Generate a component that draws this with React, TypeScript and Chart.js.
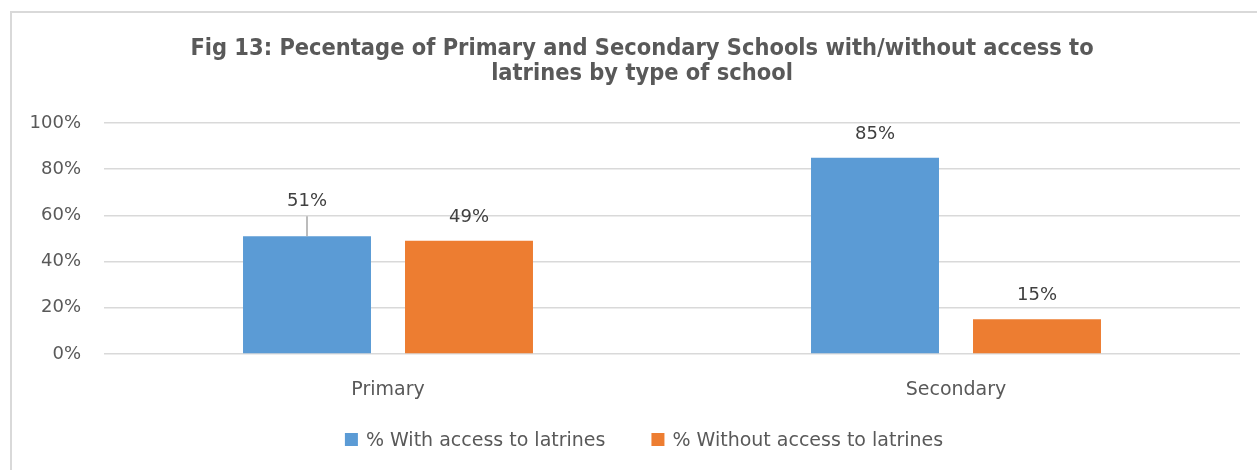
import React, { useEffect, useRef } from 'react';
import { Chart, registerables } from 'chart.js';

Chart.register(...registerables);

const categories = ['Primary', 'Secondary'];
const withAccess = [51, 85];
const withoutAccess = [49, 15];
const seriesLabels = ['% With access to latrines', '% Without access to latrines'];
const seriesColors = ['#5B9BD5', '#ED7D31'];
const yTicks = [0, 20, 40, 60, 80, 100];
const titleLines = [
  'Fig 13: Pecentage of Primary and Secondary Schools with/without access to',
  'latrines by type of school',
];
const leaderLabels = [{ dataset: 0, index: 0 }];

const TEXT = '#595959';
const FONT = '"DejaVu Sans", sans-serif';
const TITLE_FONT = 'bold 23.4px "DejaVu Sans Condensed", "DejaVu Sans", sans-serif';
const PAD_LEFT = 20;
const PAD_RIGHT = 17;

const titlePlugin = {
  id: 'customTitle',
  afterDraw(chart: any) {
    const ctx = chart.ctx;
    const area = chart.chartArea;
    ctx.save();
    ctx.font = TITLE_FONT;
    ctx.fillStyle = TEXT;
    ctx.textAlign = 'center';
    ctx.textBaseline = 'alphabetic';
    const cx = (area.left + area.right) / 2 - 30;
    titleLines.forEach((line, i) => {
      ctx.fillText(line, cx, 55 + i * 25);
    });
    ctx.restore();
  },
};

const dataLabelPlugin = {
  id: 'dataLabels',
  afterDatasetsDraw(chart: any) {
    const ctx = chart.ctx;
    ctx.save();
    ctx.font = `18px ${FONT}`;
    ctx.fillStyle = '#404040';
    ctx.textAlign = 'center';
    ctx.textBaseline = 'alphabetic';
    chart.data.datasets.forEach((ds: any, i: number) => {
      const meta = chart.getDatasetMeta(i);
      meta.data.forEach((el: any, j: number) => {
        const lead = leaderLabels.some((l) => l.dataset === i && l.index === j);
        const base = el.y - 19 - (lead ? 11 : 0);
        ctx.fillText(`${ds.data[j]}%`, el.x, base);
        if (lead) {
          ctx.strokeStyle = '#A6A6A6';
          ctx.lineWidth = 1.5;
          ctx.beginPath();
          ctx.moveTo(el.x, base + 10);
          ctx.lineTo(el.x, el.y);
          ctx.stroke();
        }
      });
    });
    ctx.restore();
  },
};

const legendPlugin = {
  id: 'customLegend',
  afterDraw(chart: any) {
    const ctx = chart.ctx;
    const area = chart.chartArea;
    ctx.save();
    ctx.font = `19px ${FONT}`;
    const box = 13;
    const boxGap = 8;
    const itemGap = 46;
    const items = chart.data.datasets.map((ds: any) => ({
      text: ds.label,
      color: ds.backgroundColor,
      w: ctx.measureText(ds.label).width,
    }));
    const total =
      items.reduce((s: number, it: any) => s + box + boxGap + it.w, 0) + itemGap * (items.length - 1);
    const center = (area.left + area.right) / 2 - 28;
    let x = center - total / 2;
    const baseline = chart.height - 24;
    ctx.textAlign = 'left';
    ctx.textBaseline = 'alphabetic';
    items.forEach((it: any) => {
      ctx.fillStyle = it.color;
      ctx.fillRect(x, baseline - 13, box, box);
      ctx.fillStyle = TEXT;
      ctx.fillText(it.text, x + box + boxGap, baseline);
      x += box + boxGap + it.w + itemGap;
    });
    ctx.restore();
  },
};

export default function App() {
  const ref = useRef<HTMLCanvasElement | null>(null);

  useEffect(() => {
    if (!ref.current) return;
    const chart = new Chart(ref.current, {
      type: 'bar',
      data: {
        labels: categories,
        datasets: [
          { label: seriesLabels[0], data: withAccess, backgroundColor: seriesColors[0] },
          { label: seriesLabels[1], data: withoutAccess, backgroundColor: seriesColors[1] },
        ],
      },
      options: {
        responsive: false,
        animation: false,
        events: [],
        layout: { padding: { left: PAD_LEFT, right: PAD_RIGHT, top: 123, bottom: 66 } },
        datasets: {
          bar: { categoryPercentage: 0.5704, barPercentage: 0.79 },
        },
        plugins: {
          legend: { display: false },
          tooltip: { enabled: false },
          title: { display: false },
        },
        scales: {
          x: {
            grid: { display: false },
            border: { display: false },
            ticks: { color: TEXT, font: { family: FONT, size: 19 }, padding: 17 },
            afterFit: (s: any) => {
              s.height = 50;
            },
          },
          y: {
            min: 0,
            max: 100,
            afterBuildTicks: (s: any) => {
              s.ticks = yTicks.map((v) => ({ value: v }));
            },
            grid: { color: '#D9D9D9', lineWidth: 1.5, drawTicks: false },
            border: { display: false },
            ticks: {
              color: TEXT,
              font: { family: FONT, size: 18 },
              padding: 23,
              callback: (v: any) => `${v}%`,
            },
            afterFit: (s: any) => {
              s.width = 84;
            },
          },
        },
      },
      plugins: [dataLabelPlugin, legendPlugin, titlePlugin],
    } as any);
    return () => chart.destroy();
  }, []);

  return (
    <div style={{ position: 'absolute', left: 0, top: 0, width: 1257, height: 470, overflow: 'hidden', background: '#fff' }}>
      <div
        style={{
          position: 'absolute',
          left: 10,
          top: 11,
          width: 1300,
          height: 520,
          border: '2px solid #D9D9D9',
        }}
      />
      <canvas ref={ref} width={1257} height={470} style={{ position: 'absolute', left: 0, top: 0, display: 'block' }} />
    </div>
  );
}
